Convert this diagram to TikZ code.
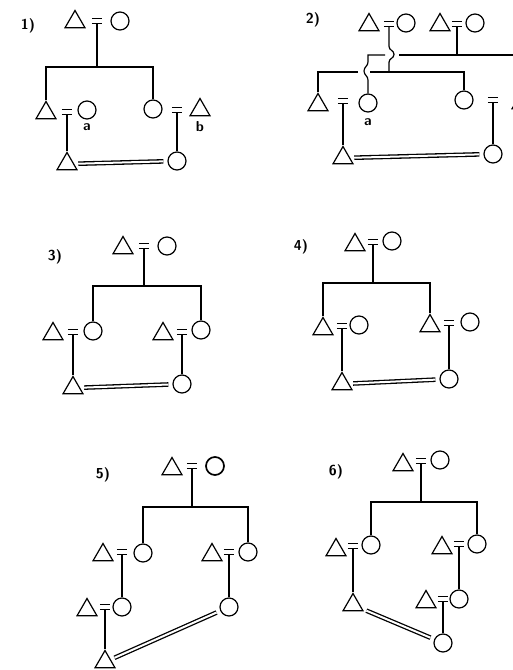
\documentclass[tikz,border=0pt]{standalone}
\usepackage{tikz}
\usetikzlibrary{shapes.geometric}

\tikzset{
  male/.style={draw, regular polygon, regular polygon sides=3,
               minimum size=23pt, inner sep=0pt},
  female/.style={draw, circle, minimum size=18pt, inner sep=0pt},
  wed/.style={minimum width=9pt, minimum height=3.5pt, inner sep=0pt,
              append after command={
                (\tikzlastnode.north west) edge (\tikzlastnode.north east)
                (\tikzlastnode.south west) edge (\tikzlastnode.south east)}},
  marr/.style={line width=1.3pt, double, double distance=2pt,
               shorten <=4pt, shorten >=4pt},
  tag/.style={font=\Large\bfseries\sffamily},
  letter/.style={font=\Large\bfseries\sffamily}
}

\begin{document}
\begin{tikzpicture}[x=1pt, y=-1pt, line width=1.2pt]
  \fill[white] (0,0) rectangle (513,670);
  \useasboundingbox (0,0) rectangle (513,670);

  % 1)
  \node[tag] (t1) at (28,26) {1)};
  \node[male] (f1) at (75,22) {};
  \node[wed] (w1) at (97,21) {};
  \node[female] (m1) at (120,21) {};
  \coordinate (s1) at (97,67);
  \node[male] (c1a) at (46,113) {};
  \node[wed] (w1a) at (67,112) {};
  \node[female] (h1a) at (87,110) {};
  \node[female] (c1b) at (153,109) {};
  \node[wed] (w1b) at (177,110) {};
  \node[male] (h1b) at (200,110) {};
  \node[letter] (la1) at (87,127) {a};
  \node[letter] (lb1) at (200,127) {b};
  \node[male] (g1a) at (67,164) {};
  \node[female] (g1b) at (177,161) {};
  \draw (w1.south) -- (s1);
  \draw (c1a.north) |- (s1) -| (c1b.north);
  \draw (w1a.south) -- (g1a.north);
  \draw (w1b.south) -- (g1b.north);
  \draw[marr] (g1a) -- (g1b);

  % 2)
  \node[tag] (t2) at (313,20) {2)};
  \node[male] (f2a) at (369,25) {};
  \node[wed] (w2a) at (389,24) {};
  \node[female] (m2a) at (406,23) {};
  \node[male] (f2b) at (440,25) {};
  \node[wed] (w2b) at (457,24) {};
  \node[female] (m2b) at (475,23) {};
  \node[male] (d2) at (318,105) {};
  \node[wed] (w2c) at (343,101) {};
  \node[female] (a2) at (368,103) {};
  \node[female] (e2) at (464,100) {};
  \node[wed] (w2d) at (493,100) {};
  \node[male] (b2) at (522,103) {};
  \node[letter] (la2) at (368,122) {a};
  \node[letter] (lb2) at (522,124) {b};
  \node[male] (g2a) at (343,158) {};
  \node[female] (g2b) at (493,154) {};
  \coordinate (k2) at (368,55);
  \coordinate (j2a) at (389,72);
  \coordinate (j2b) at (457,55);
  \coordinate (gap1l) at (385,55);
  \coordinate (gap1r) at (399,55);
  \coordinate (end2) at (525,55);
  \coordinate (gap2l) at (358,72);
  \coordinate (gap2r) at (370,72);
  \draw (w2b.south) -- (j2b);
  \draw (gap1l) -- (k2) -- ++(0,7)
    .. controls +(0,4) and +(0,-4) .. ++(-4,9)
    .. controls +(0,4) and +(0,-4) .. ++(4,9) -- (a2.north);
  \draw (gap1r) -- (end2);
  \draw (w2a.south) -- ++(0,20)
    .. controls +(0,4) and +(0,-4) .. ++(5,8)
    .. controls +(0,4) and +(0,-4) .. ++(-5,8) -- (j2a);
  \draw (d2.north) |- (gap2l);
  \draw (gap2r) -| (e2.north);
  \draw (w2c.south) -- (g2a.north);
  \draw (w2d.south) -- (g2b.north);
  \draw[marr] (g2a) -- (g2b);

  % 3)
  \node[tag] (t3) at (55,257) {3)};
  \node[male] (f3) at (123,248) {};
  \node[wed] (w3) at (144,246) {};
  \node[female] (m3) at (167,246) {};
  \coordinate (s3) at (144,286);
  \node[male] (h3a) at (53,334) {};
  \node[wed] (w3a) at (73,332) {};
  \node[female] (c3a) at (93,331) {};
  \node[male] (h3b) at (163,334) {};
  \node[wed] (w3b) at (182,332) {};
  \node[female] (c3b) at (201,330) {};
  \node[male] (g3a) at (73,388) {};
  \node[female] (g3b) at (182,384) {};
  \draw (w3.south) -- (s3);
  \draw (c3a.north) |- (s3) -| (c3b.north);
  \draw (w3a.south) -- (g3a.north);
  \draw (w3b.south) -- (g3b.north);
  \draw[marr] (g3a) -- (g3b);

  % 4)
  \node[tag] (t4) at (301,247) {4)};
  \node[male] (f4) at (355,245) {};
  \node[wed] (w4) at (373,242) {};
  \node[female] (m4) at (392,241) {};
  \coordinate (s4) at (373,283);
  \node[male] (c4a) at (323,329) {};
  \node[wed] (w4a) at (342,326) {};
  \node[female] (h4a) at (359,325) {};
  \node[male] (c4b) at (430,326) {};
  \node[wed] (w4b) at (449,323) {};
  \node[female] (h4b) at (470,322) {};
  \node[male] (g4a) at (342,384) {};
  \node[female] (g4b) at (449,379) {};
  \draw (w4.south) -- (s4);
  \draw (c4a.north) |- (s4) -| (c4b.north);
  \draw (w4a.south) -- (g4a.north);
  \draw (w4b.south) -- (g4b.north);
  \draw[marr] (g4a) -- (g4b);

  % 5)
  \node[tag] (t5) at (103,475) {5)};
  \node[male] (f5) at (172,469) {};
  \node[wed] (w5) at (192,466) {};
  \node[female, line width=1.7pt] (m5) at (215,466) {};
  \coordinate (s5) at (192,507);
  \node[male] (h5a) at (103,555) {};
  \node[wed] (w5a) at (122,552) {};
  \node[female] (c5a) at (143,553) {};
  \node[male] (h5b) at (212,555) {};
  \node[wed] (w5b) at (229,552) {};
  \node[female] (c5b) at (248,552) {};
  \node[male] (h5c) at (87,610) {};
  \node[wed] (w5c) at (105,607) {};
  \node[female] (k5a) at (122,607) {};
  \node[female] (k5b) at (229,607) {};
  \node[male] (g5) at (105,662) {};
  \draw (w5.south) -- (s5);
  \draw (c5a.north) |- (s5) -| (c5b.north);
  \draw (w5a.south) -- (k5a.north);
  \draw (w5b.south) -- (k5b.north);
  \draw (w5c.south) -- (g5.north);
  \draw[marr] (g5) -- (k5b);

  % 6)
  \node[tag] (t6) at (336,472) {6)};
  \node[male] (f6) at (403,465) {};
  \node[wed] (w6) at (421,461) {};
  \node[female] (m6) at (440,460) {};
  \coordinate (s6) at (421,502);
  \node[male] (h6a) at (336,550) {};
  \node[wed] (w6a) at (353,546) {};
  \node[female] (c6a) at (371,545) {};
  \node[male] (h6b) at (442,548) {};
  \node[wed] (w6b) at (459,544) {};
  \node[female] (c6b) at (477,544) {};
  \node[male] (k6a) at (353,605) {};
  \node[male] (h6c) at (426,602) {};
  \node[wed] (w6c) at (443,599) {};
  \node[female] (k6b) at (459,599) {};
  \node[female] (g6) at (443,643) {};
  \draw (w6.south) -- (s6);
  \draw (c6a.north) |- (s6) -| (c6b.north);
  \draw (w6a.south) -- (k6a.north);
  \draw (w6b.south) -- (k6b.north);
  \draw (w6c.south) -- (g6.north);
  \draw[marr] (k6a) -- (g6);
\end{tikzpicture}
\end{document}
